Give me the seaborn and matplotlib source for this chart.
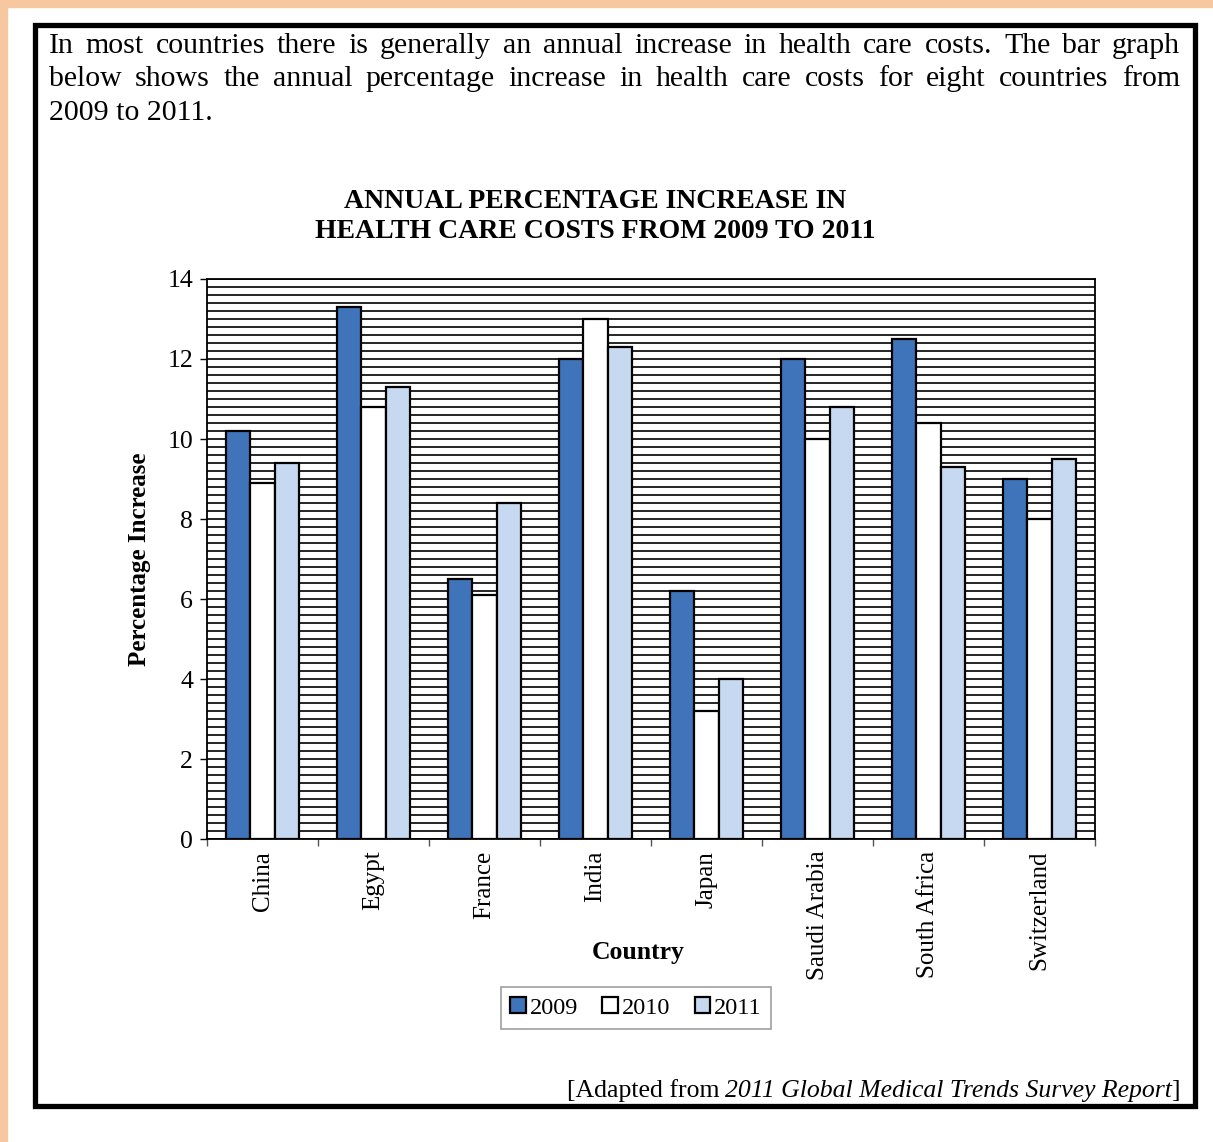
import matplotlib
matplotlib.use("Agg")
import matplotlib.pyplot as plt
from matplotlib.patches import Rectangle
from matplotlib.ticker import MultipleLocator, FixedLocator, NullFormatter
import pandas as pd
import seaborn as sns

countries = ["China", "Egypt", "France", "India", "Japan",
             "Saudi Arabia", "South Africa", "Switzerland"]
years = ["2009", "2010", "2011"]
inc_2009 = [10.2, 13.3, 6.5, 12.0, 6.2, 12.0, 12.5, 9.0]
inc_2010 = [8.9, 10.8, 6.1, 13.0, 3.2, 10.0, 10.4, 8.0]
inc_2011 = [9.4, 11.3, 8.4, 12.3, 4.0, 10.8, 9.3, 9.5]
bar_colors = ["#3F74BA", "#FFFFFF", "#C6D9F0"]

intro_lines = [
    "In most countries there is generally an annual increase in health care costs. The bar graph",
    "below shows the annual percentage increase in health care costs for eight countries from",
    "2009 to 2011.",
]

W, H = 1213, 1142

def main():
    rows = []
    for yr, vals in zip(years, [inc_2009, inc_2010, inc_2011]):
        for c, v in zip(countries, vals):
            rows.append({"Country": c, "Year": yr, "Increase": v})
    df = pd.DataFrame(rows)

    sns.set_style("white")
    plt.rcParams["font.family"] = ["Liberation Serif", "DejaVu Serif"]
    plt.rcParams["text.color"] = "black"
    plt.rcParams["axes.labelcolor"] = "black"
    plt.rcParams["xtick.color"] = "black"
    plt.rcParams["ytick.color"] = "black"

    fig = plt.figure(figsize=(W / 100, H / 100), dpi=100, facecolor="white")

    # peach strips and black frame
    fig.patches.append(Rectangle((0, 0), 7 / W, 1, transform=fig.transFigure,
                                 color="#F7C7A0", zorder=0))
    fig.patches.append(Rectangle((0, 1 - 7 / H), 1, 7 / H, transform=fig.transFigure,
                                 color="#F7C7A0", zorder=0))
    fig.patches.append(Rectangle((35 / W, 1 - 1106 / H), 1160 / W, 1081 / H,
                                 transform=fig.transFigure, fill=False,
                                 edgecolor="black", lw=3.8, zorder=5))

    ax = fig.add_axes([207 / W, 1 - 839 / H, 888 / W, 560 / H])
    sns.barplot(data=df, x="Country", y="Increase", hue="Year", order=countries,
                hue_order=years, palette=bar_colors, saturation=1, edgecolor="black",
                linewidth=1.6, width=0.65, gap=0, ax=ax, zorder=3)

    ax.set_ylim(0, 14)
    ax.set_xlim(-0.5, 7.5)
    ax.yaxis.set_major_locator(MultipleLocator(2))
    ax.yaxis.set_minor_locator(MultipleLocator(0.2))
    ax.grid(True, axis="y", which="both", color="black", lw=1.2, zorder=0)
    ax.set_axisbelow(True)
    for s in ax.spines.values():
        s.set_visible(True)
        s.set_color("black")
        s.set_linewidth(1.3)
    ax.tick_params(axis="y", which="major", left=True, length=5, width=1,
                   labelsize=18.5, pad=5, colors="black")
    ax.tick_params(axis="y", which="minor", left=False)
    ax.xaxis.set_minor_locator(FixedLocator([i - 0.5 for i in range(9)]))
    ax.xaxis.set_minor_formatter(NullFormatter())
    ax.tick_params(axis="x", which="minor", bottom=True, length=5, width=1, color="#555555")
    ax.tick_params(axis="x", which="major", bottom=False, labelsize=18, pad=5)
    ax.set_xticks(range(len(countries)))
    ax.set_xticklabels(countries, rotation=90, va="top")
    ax.set_xlabel("")
    ax.set_ylabel("Percentage Increase", fontsize=18, fontweight="bold", labelpad=12)

    leg = ax.legend(loc="center", bbox_to_anchor=(636 / W, 1 - 1008 / H),
                    bbox_transform=fig.transFigure, ncol=3, frameon=True,
                    fontsize=17.5, handlelength=0.65, handleheight=0.65,
                    handletextpad=0.15, columnspacing=1.0, borderpad=0.4,
                    fancybox=False)
    leg.get_frame().set_edgecolor("#888888")
    leg.get_frame().set_linewidth(1.2)

    fig.text(638 / W, 1 - 953 / H, "Country", ha="center", va="center",
             fontsize=18.5, fontweight="bold")
    fig.text(595 / W, 1 - 201 / H, "ANNUAL PERCENTAGE INCREASE IN", ha="center",
             va="center", fontsize=20, fontweight="bold")
    fig.text(595 / W, 1 - 232 / H, "HEALTH CARE COSTS FROM 2009 TO 2011", ha="center",
             va="center", fontsize=20, fontweight="bold")

    # justified intro paragraph
    renderer = fig.canvas.get_renderer()
    x0, x1 = 49, 1180
    fs = 21.5
    for i, line in enumerate(intro_lines):
        ypix = 46 + i * 33.5
        words = line.split(" ")
        if i == len(intro_lines) - 1:
            fig.text(x0 / W, 1 - ypix / H, line, ha="left", va="center", fontsize=fs)
            continue
        texts = [fig.text(0, 1 - ypix / H, w, ha="left", va="center", fontsize=fs)
                 for w in words]
        widths = [t.get_window_extent(renderer).width for t in texts]
        space = max((x1 - x0 - sum(widths)) / (len(words) - 1), 3)
        x = x0
        for t, w in zip(texts, widths):
            t.set_x(x / W)
            x += w + space

    # footer with italic title
    yf = 1 - 1091 / H
    t3 = fig.text(1180 / W, yf, "]", ha="right", va="center", fontsize=18.5)
    w3 = t3.get_window_extent(renderer).width
    t2 = fig.text((1180 - w3) / W, yf, "2011 Global Medical Trends Survey Report",
                  ha="right", va="center", fontsize=18.5, style="italic")
    w2 = t2.get_window_extent(renderer).width
    fig.text((1180 - w3 - w2 - 5) / W, yf, "[Adapted from", ha="right",
             va="center", fontsize=18.5)

    fig.savefig("out.png", dpi=100, facecolor="white")

if __name__ == "__main__":
    main()
